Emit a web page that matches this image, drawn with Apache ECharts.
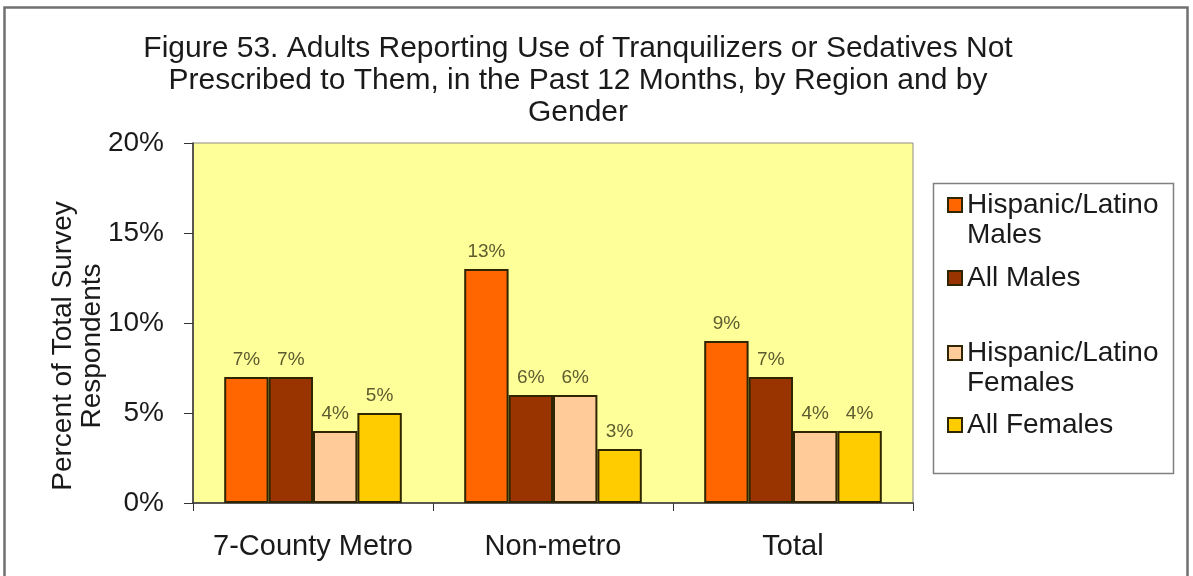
<!DOCTYPE html>
<html><head><meta charset="utf-8">
<script src="https://cdn.jsdelivr.net/npm/echarts@6/dist/echarts.min.js"></script>
<style>html,body{margin:0;padding:0;background:#fff}#c{width:1193px;height:576px}</style>
</head><body><div id="c"></div>
<script>
// ---- data ----
const categories = ['7-County Metro', 'Non-metro', 'Total'];
const seriesNames = ['Hispanic/Latino\nMales', 'All Males', 'Hispanic/Latino\nFemales', 'All Females'];
const hispanicMales = [7, 13, 9];
const allMales = [7, 6, 7];
const hispanicFemales = [4, 6, 4];
const allFemales = [5, 3, 4];
const titleText = 'Figure 53. Adults Reporting Use of Tranquilizers or Sedatives Not\nPrescribed to Them, in the Past 12 Months, by Region and by\nGender';
const yAxisName = 'Percent of Total Survey\nRespondents';

// ---- styling ----
const seriesValues = [hispanicMales, allMales, hispanicFemales, allFemales];
const colors = ['#FF6600', '#993300', '#FFCC99', '#FFCC00'];
const font = '"Liberation Sans", Arial, sans-serif';
const textColor = '#1a1a1a';
const legendTops = [160, 263, 308, 410];

const chart = echarts.init(document.getElementById('c'), null, {renderer: 'canvas'});
chart.setOption({
  animation: false,
  backgroundColor: '#ffffff',
  textStyle: {fontFamily: font},
  title: {
    text: titleText, left: 578, top: 33, textAlign: 'center', padding: 0,
    textStyle: {fontSize: 30, lineHeight: 32, fontWeight: 'normal', color: textColor, fontFamily: font}
  },
  graphic: [
    {type: 'rect', silent: true, shape: {x: 4.5, y: 7.5, width: 1183, height: 620},
     style: {fill: 'none', stroke: '#707070', lineWidth: 2.5}},
    {type: 'rect', silent: true, shape: {x: 933.5, y: 183.5, width: 240, height: 290},
     style: {fill: 'none', stroke: '#808080', lineWidth: 1.5}}
  ],
  legend: seriesNames.map((n, i) => ({
    data: [n], orient: 'vertical', left: 947, top: legendTops[i], padding: 0,
    itemWidth: 14, itemHeight: 14, icon: 'rect', itemGap: 0,
    formatter: name => (name.indexOf('\n') >= 0 ? ' \n' + name : name),
    textStyle: {fontSize: 28, lineHeight: 30, color: textColor, fontFamily: font}
  })),
  grid: {left: 193, right: 280, top: 143, bottom: 73, show: true,
         backgroundColor: '#FFFF99', borderColor: '#8c8c8c', borderWidth: 1, containLabel: false},
  xAxis: {
    type: 'category', data: categories,
    axisLine: {lineStyle: {color: '#333', width: 1.5}},
    axisTick: {show: true, length: 8, lineStyle: {color: '#333'}},
    axisLabel: {interval: 0, hideOverlap: false, fontSize: 29, lineHeight: 30, color: textColor, margin: 29, fontFamily: font}
  },
  yAxis: {
    type: 'value', min: 0, max: 20, interval: 5,
    axisLine: {show: true, lineStyle: {color: '#333', width: 1.5}},
    axisTick: {show: true, length: 9, lineStyle: {color: '#333'}},
    splitLine: {show: false},
    axisLabel: {formatter: '{value}%', fontSize: 28, margin: 29, color: textColor, fontFamily: font},
    name: yAxisName, nameLocation: 'middle', nameRotate: 90, nameGap: 86, nameMoveOverlap: false,
    nameTextStyle: {fontSize: 28, lineHeight: 29, color: textColor, fontFamily: font, padding: [0, 46, 0, 0]}
  },
  series: seriesNames.map((n, i) => ({
    type: 'bar', name: n, data: seriesValues[i],
    barGap: '0%', barCategoryGap: '26%',
    itemStyle: {color: colors[i], borderColor: '#2f2500', borderWidth: 2},
    label: {show: true, position: 'top', distance: 8, formatter: '{c}%',
            fontSize: 19, color: '#5c5c30', fontFamily: font}
  }))
});
</script></body></html>
